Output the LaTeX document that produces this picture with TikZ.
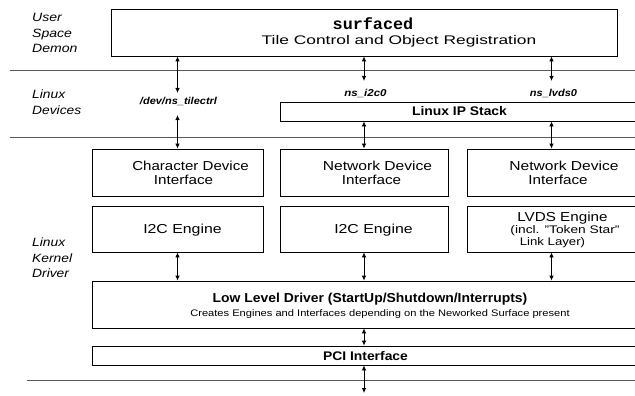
\documentclass[tikz,border=0pt]{standalone}
\usepackage{fontspec}
\setmainfont{Liberation Sans}
\newfontfamily\monob{Liberation Mono}
\usetikzlibrary{arrows.meta}
\newcommand{\hsc}[2]{\scalebox{#1}[1]{#2}}
\newcommand{\lstack}[1]{\begin{tabular}[t]{@{}l@{}}#1\end{tabular}}
\begin{document}
\begin{tikzpicture}[x=1pt,y=-1pt,
  box/.style={draw=black, line width=0.8pt, fill=white, inner sep=0pt},
  sepline/.style={draw=black!65, line width=1pt},
  dar/.style={{Latex[length=5pt,width=4.5pt]}-{Latex[length=5pt,width=4.5pt]}, line width=0.8pt},
  txt/.style={anchor=base, inner sep=0pt, font=\fontsize{13}{15}\selectfont},
  btxt/.style={anchor=base, inner sep=0pt, font=\fontsize{12.5}{15}\selectfont\bfseries},
  dev/.style={anchor=base, inner sep=0pt, font=\fontsize{10}{12}\selectfont\bfseries\itshape},
  lab/.style={anchor=base west, inner sep=0pt, font=\fontsize{12}{15.6}\selectfont\itshape},
]
\useasboundingbox (0,0) rectangle (635,396);
\clip (0,0) rectangle (635,396);

% layer separators
\draw[sepline] (10,71) -- (635,71);
\draw[sepline] (10,137) -- (635,137);
\draw[sepline] (27,380) -- (635,380);

% boxes
\node[box, minimum width=506pt, minimum height=47pt] (top) at (364,32.5) {};
\node[box, minimum width=360pt, minimum height=19pt] (ip) at (460,111.5) {};
\node[box, minimum width=171pt, minimum height=47pt] (ci1) at (177.5,172.5) {};
\node[box, minimum width=168pt, minimum height=47pt] (ni2) at (364,172.5) {};
\node[box, minimum width=169pt, minimum height=47pt] (ni3) at (551.5,172.5) {};
\node[box, minimum width=171pt, minimum height=46pt] (en1) at (177.5,229) {};
\node[box, minimum width=168pt, minimum height=46pt] (en2) at (364,229) {};
\node[box, minimum width=169pt, minimum height=46pt] (en3) at (551.5,229) {};
\node[box, minimum width=548pt, minimum height=47pt] (lld) at (366,304.5) {};
\node[box, minimum width=548pt, minimum height=19pt] (pci) at (366,355.5) {};

% free arrow ends
\coordinate (d1a) at (177.5,93);
\coordinate (d1b) at (177.5,115);
\coordinate (d2a) at (364,81);
\coordinate (d3a) at (551.5,81);
\coordinate (bot) at (364,393);

% connectors
\draw[dar] (top.south -| ci1.north) -- (d1a);
\draw[dar] (d1b) -- (ci1.north);
\draw[dar] (top.south -| ni2.north) -- (d2a);
\draw[dar] (ip.south -| ni2.north) -- (ni2.north);
\draw[dar] (top.south -| ni3.north) -- (d3a);
\draw[dar] (ip.south -| ni3.north) -- (ni3.north);
\draw[dar] (en1.south) -- (lld.north -| en1.south);
\draw[dar] (en2.south) -- (lld.north -| en2.south);
\draw[dar] (en3.south) -- (lld.north -| en3.south);
\draw[dar] (lld.south -| en2.south) -- (pci.north -| en2.south);
\draw[dar] (pci.south -| en2.south) -- (bot);

% texts
\node[anchor=base, inner sep=0pt, font=\monob\bfseries\fontsize{16}{18}\selectfont] (tsurf) at (373,29.5) {\hsc{1.05}{surfaced}};
\node[anchor=base, inner sep=0pt, font=\fontsize{12.5}{15}\selectfont] (ttile) at (399,44.5) {\hsc{1.39}{Tile Control and Object Registration}};

\node[btxt] (tip) at (459.5,116) {\hsc{1.11}{Linux IP Stack}};
\node[dev] (ttc) at (178.5,104) {\hsc{1.1}{/dev/ns\_tilectrl}};
\node[dev] (ti2c) at (365.5,96) {\hsc{1.15}{ns\_i2c0}};
\node[dev] (tlv) at (553.5,96) {\hsc{1.1}{ns\_lvds0}};

\node[txt] (tc1a) at (190.5,170) {\hsc{1.16}{Character Device}};
\node[txt] (tc1b) at (183.5,184.5) {\hsc{1.17}{Interface}};
\node[txt] (tc2a) at (377.5,170) {\hsc{1.2}{Network Device}};
\node[txt] (tc2b) at (371.5,184.5) {\hsc{1.17}{Interface}};
\node[txt] (tc3a) at (564,170) {\hsc{1.2}{Network Device}};
\node[txt] (tc3b) at (558,184.5) {\hsc{1.17}{Interface}};

\node[txt] (te1) at (182.5,233) {\hsc{1.22}{I2C Engine}};
\node[txt] (te2) at (373.5,233) {\hsc{1.22}{I2C Engine}};
\node[txt] (te3a) at (562.5,221) {\hsc{1.17}{LVDS Engine}};
\node[anchor=base, inner sep=0pt, font=\fontsize{11}{13}\selectfont] (te3b) at (565,233.5) {\hsc{1.25}{(incl. "Token Star"}};
\node[anchor=base, inner sep=0pt, font=\fontsize{11}{13}\selectfont] (te3c) at (552.5,245) {\hsc{1.2}{Link Layer)}};

\node[anchor=base, inner sep=0pt, font=\fontsize{13}{15}\selectfont\bfseries] (tlld) at (370,302.7) {\hsc{1.07}{Low Level Driver (StartUp/Shutdown/Interrupts)}};
\node[anchor=base, inner sep=0pt, font=\fontsize{9.5}{11}\selectfont] (tlld2) at (380,316) {\hsc{1.17}{Creates Engines and Interfaces depending on the Neworked Surface present}};
\node[btxt] (tpci) at (365.5,360) {\hsc{1.11}{PCI Interface}};

% layer labels
\node[lab] (lu) at (32,21.7) {\hsc{1.17}{\lstack{User\\Space\\Demon}}};
\node[lab] (ld) at (32,99) {\hsc{1.15}{\lstack{Linux\\Devices}}};
\node[lab] (lk) at (32,246.7) {\hsc{1.15}{\lstack{Linux\\Kernel\\Driver}}};
\end{tikzpicture}
\end{document}
